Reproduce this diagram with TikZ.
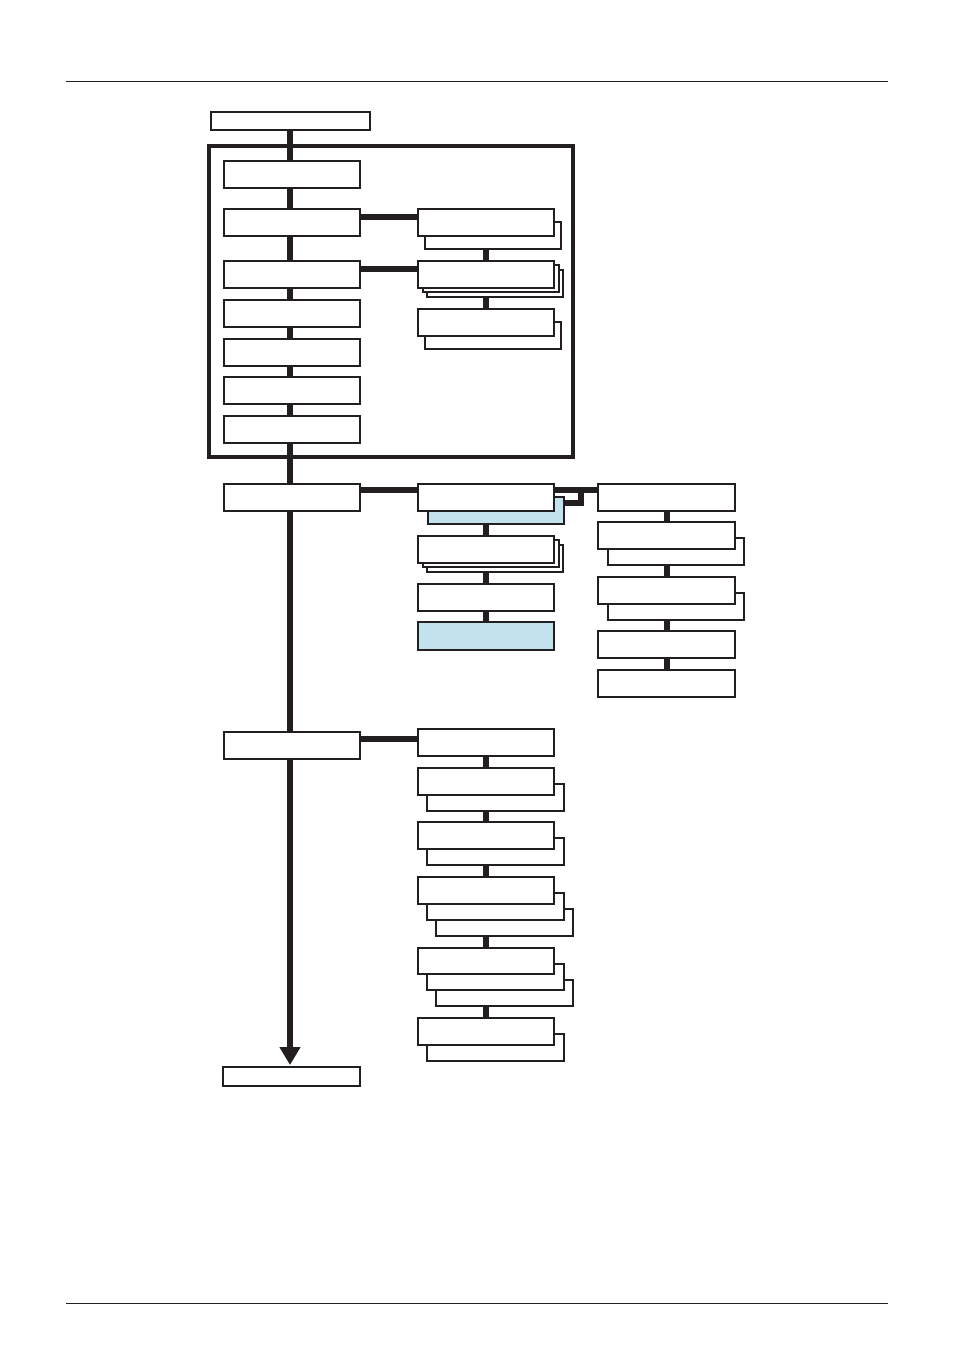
\documentclass[tikz,border=0pt]{standalone}
\usetikzlibrary{arrows.meta}
\definecolor{ink}{HTML}{231F20}
\definecolor{paleblue}{HTML}{C2E3EE}
\pgfdeclarelayer{bg}
\pgfsetlayers{bg,main}
\newcommand\mybox[6]{\node[#6, anchor=north west, minimum width={(#4-#2)*1pt}, minimum height={(#5-#3)*1pt}] (#1) at (#2,#3) {};}
\tikzset{
  box/.style={draw=ink, line width=1.8pt, fill=white, inner sep=0pt, outer sep=0pt},
  bluebox/.style={box, fill=paleblue},
  framebox/.style={draw=ink, line width=3.2pt, inner sep=0pt, outer sep=0pt},
  conn/.style={draw=ink, line width=6pt},
  rule/.style={draw=ink, line width=0.9pt}
}
\begin{document}
\begin{tikzpicture}[x=1pt,y=-1pt]
\useasboundingbox (0,0) rectangle (954,1351);
\draw[rule] (66,81) -- (888,81);
\draw[rule] (66,1303) -- (888,1303);
% main column
\mybox{T}{211}{112}{370}{130}{box}
\mybox{F}{209}{146}{573}{457}{framebox}
\mybox{B1}{224}{161}{360}{188}{box}
\mybox{B2}{224}{209}{360}{236}{box}
\mybox{B3}{224}{261}{360}{288}{box}
\mybox{B4}{224}{300}{360}{327}{box}
\mybox{B5}{224}{339}{360}{366}{box}
\mybox{B6}{224}{377}{360}{404}{box}
\mybox{B7}{224}{416}{360}{443}{box}
\mybox{B8}{224}{484}{360}{511}{box}
\mybox{B9}{224}{732}{360}{759}{box}
\mybox{Fin}{223}{1067}{360}{1086}{box}
% R column
\mybox{R1s}{425}{222}{561}{249}{box}
\mybox{R1}{418}{209}{554}{236}{box}
\mybox{R2c}{427}{270}{563}{297}{box}
\mybox{R2b}{423}{265}{559}{292}{box}
\mybox{R2}{418}{261}{554}{288}{box}
\mybox{R3s}{425}{322}{561}{349}{box}
\mybox{R3}{418}{309}{554}{336}{box}
% C column
\mybox{C1s}{428}{497}{564}{524}{bluebox}
\mybox{C1}{418}{484}{554}{511}{box}
\mybox{C2c}{427}{545}{563}{572}{box}
\mybox{C2b}{423}{540}{559}{567}{box}
\mybox{C2}{418}{536}{554}{563}{box}
\mybox{C3}{418}{584}{554}{611}{box}
\mybox{C4}{418}{622}{554}{650}{bluebox}
% D column
\mybox{D1}{598}{484}{735}{511}{box}
\mybox{D2s}{608}{538}{744}{565}{box}
\mybox{D2}{598}{522}{735}{549}{box}
\mybox{D3s}{608}{593}{744}{620}{box}
\mybox{D3}{598}{577}{735}{604}{box}
\mybox{D4}{598}{631}{735}{658}{box}
\mybox{D5}{598}{670}{735}{697}{box}
% E column
\mybox{E1}{418}{729}{554}{756}{box}
\mybox{E2s}{427}{784}{564}{811}{box}
\mybox{E2}{418}{768}{554}{795}{box}
\mybox{E3s}{427}{838}{564}{865}{box}
\mybox{E3}{418}{822}{554}{849}{box}
\mybox{E4c}{436}{909}{573}{936}{box}
\mybox{E4b}{427}{893}{564}{920}{box}
\mybox{E4}{418}{877}{554}{904}{box}
\mybox{E5c}{436}{980}{573}{1006}{box}
\mybox{E5b}{427}{964}{564}{990}{box}
\mybox{E5}{418}{948}{554}{974}{box}
\mybox{E6s}{427}{1034}{564}{1061}{box}
\mybox{E6}{418}{1018}{554}{1045}{box}
\begin{pgfonlayer}{bg}
\draw[conn, -{Triangle[length=18pt,width=20pt]}, shorten >=2pt] ([xshift=-0.5pt]T.south) -- ([xshift=-0.5pt]T.south |- Fin.north);
\draw[conn] ([yshift=-8pt]B2.north east) -- ([yshift=-8pt]R1.north west);
\draw[conn] ([yshift=-8pt]B3.north east) -- ([yshift=-8pt]R2.north west);
\draw[conn] ([yshift=-6pt]B8.north east) -- ([yshift=-6pt]C1.north west);
\draw[conn] ([yshift=-7pt]B9.north east) -- ([yshift=-7pt]B9.north east -| E1.west);
\draw[conn] (R1.south) -- (R2.north);
\draw[conn] (R2.south) -- (R3.north);
\draw[conn] (C1.south) -- (C2.north);
\draw[conn] (C2.south) -- (C3.north);
\draw[conn] (C3.south) -- (C4.north);
\draw[conn] ([yshift=-6pt]C1.north east) -- ([yshift=-6pt]D1.north west);
\draw[conn] ([yshift=-6pt]C1s.north east) -- ++(17,0) -- ++(0,-15);
\draw[conn] (D1.south) -- (D2.north);
\draw[conn] (D2.south) -- (D3.north);
\draw[conn] (D3.south) -- (D4.north);
\draw[conn] (D4.south) -- (D5.north);
\draw[conn] (E1.south) -- (E2.north);
\draw[conn] (E2.south) -- (E3.north);
\draw[conn] (E3.south) -- (E4.north);
\draw[conn] (E4.south) -- (E5.north);
\draw[conn] (E5.south) -- (E6.north);
\end{pgfonlayer}
\end{tikzpicture}
\end{document}
